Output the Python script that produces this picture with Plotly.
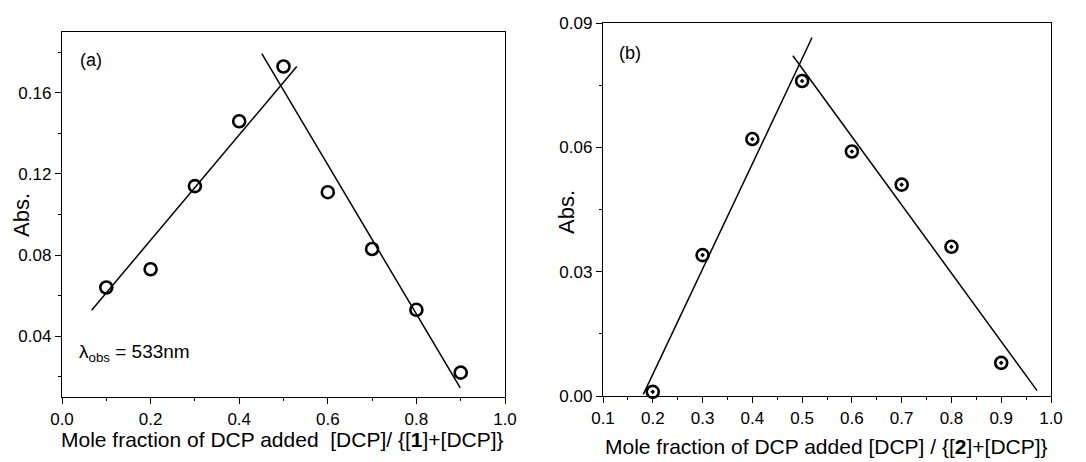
import plotly.graph_objects as go

W, H = 1086, 462

# ---- data panel (a)
xa = [0.1, 0.2, 0.3, 0.4, 0.5, 0.6, 0.7, 0.8, 0.9]
ya = [0.064, 0.073, 0.114, 0.146, 0.173, 0.111, 0.083, 0.053, 0.022]
fit_a1_x = [0.067, 0.530]
fit_a1_y = [0.0528, 0.173]
fit_a2_x = [0.451, 0.899]
fit_a2_y = [0.1793, 0.0145]

# ---- data panel (b)
xb = [0.2, 0.3, 0.4, 0.5, 0.6, 0.7, 0.8, 0.9]
yb = [0.001, 0.034, 0.062, 0.076, 0.059, 0.051, 0.036, 0.008]
fit_b1_x = [0.181, 0.520]
fit_b1_y = [0.0004, 0.0865]
fit_b2_x = [0.4815, 0.972]
fit_b2_y = [0.0821, 0.0013]

FONT = "Liberation Sans, Arial, sans-serif"

fig = go.Figure()

line_style = dict(color="black", width=1.5)
fig.add_trace(go.Scatter(x=fit_a1_x, y=fit_a1_y, mode="lines", line=line_style, xaxis="x", yaxis="y", showlegend=False))
fig.add_trace(go.Scatter(x=fit_a2_x, y=fit_a2_y, mode="lines", line=line_style, xaxis="x", yaxis="y", showlegend=False))
fig.add_trace(go.Scatter(x=xa, y=ya, mode="markers", xaxis="x", yaxis="y", showlegend=False,
                         marker=dict(symbol="circle-open", size=12, color="black", line=dict(width=2.6, color="black"))))

fig.add_trace(go.Scatter(x=fit_b1_x, y=fit_b1_y, mode="lines", line=line_style, xaxis="x2", yaxis="y2", showlegend=False))
fig.add_trace(go.Scatter(x=fit_b2_x, y=fit_b2_y, mode="lines", line=line_style, xaxis="x2", yaxis="y2", showlegend=False))
fig.add_trace(go.Scatter(x=xb, y=yb, mode="markers", xaxis="x2", yaxis="y2", showlegend=False, cliponaxis=False,
                         marker=dict(symbol="circle-open-dot", size=12, color="black", line=dict(width=2.6, color="black"))))

def px_dom(a, b, total):
    return [a / total, b / total]

axis_common = dict(showline=True, linecolor="black", linewidth=1.3, mirror=True, showgrid=False, zeroline=False,
                   automargin=False, ticks="outside", ticklen=6, tickwidth=1.2, tickcolor="black",
                   tickfont=dict(family=FONT, size=17, color="black"))

fig.update_layout(
    width=W, height=H, margin=dict(l=0, r=0, t=0, b=0),
    paper_bgcolor="white", plot_bgcolor="white",
    xaxis=dict(domain=px_dom(62, 505, W), range=[0, 1.0], tick0=0, dtick=0.2, tickformat=".1f",
               minor=dict(ticks="outside", ticklen=3, dtick=0.1, tickcolor="black", tickwidth=1.2), anchor="y", **axis_common),
    yaxis=dict(domain=[(H - 397) / H, (H - 32) / H], range=[0.01, 0.19], tick0=0, dtick=0.04, tickformat=".2f",
               minor=dict(ticks="outside", ticklen=3, tick0=0, dtick=0.02, tickcolor="black", tickwidth=1.2), anchor="x", **axis_common),
    xaxis2=dict(domain=px_dom(603, 1051, W), range=[0.1, 1.0], tick0=0.1, dtick=0.1, tickformat=".1f",
                minor=dict(ticks="outside", ticklen=3, dtick=0.05, tickcolor="black", tickwidth=1.2), anchor="y2", **axis_common),
    yaxis2=dict(domain=[(H - 396) / H, (H - 23) / H], range=[0, 0.09], tick0=0, dtick=0.03, tickformat=".2f",
                minor=dict(ticks="outside", ticklen=3, tick0=0, dtick=0.015, tickcolor="black", tickwidth=1.2), anchor="x2", **axis_common),
)

ann_font = dict(family=FONT, color="black")
annotations = [
    dict(text="Mole fraction of DCP added&nbsp;&nbsp;[DCP]/ {[<b>1</b>]+[DCP]}", xref="paper", yref="paper",
         x=282.5 / W, y=(H - 439) / H, xanchor="center", yanchor="middle", showarrow=False, font=dict(size=21, **ann_font)),
    dict(text="Abs.", xref="paper", yref="paper", x=22 / W, y=(H - 215) / H, textangle=-90,
         xanchor="center", yanchor="middle", showarrow=False, font=dict(size=22, **ann_font)),
    dict(text="(a)", xref="x", yref="y", x=0.036, y=0.176, xanchor="left", yanchor="middle", showarrow=False,
         font=dict(size=18, **ann_font)),
    dict(text="λ<sub>obs</sub> = 533nm", xref="x", yref="y", x=0.034, y=0.0317, xanchor="left", yanchor="middle",
         showarrow=False, font=dict(size=19, **ann_font)),
    dict(text="Mole fraction of DCP added [DCP] / {[<b>2</b>]+[DCP]}", xref="paper", yref="paper",
         x=826.5 / W, y=(H - 446) / H, xanchor="center", yanchor="middle", showarrow=False, font=dict(size=21, **ann_font)),
    dict(text="Abs.", xref="paper", yref="paper", x=566 / W, y=(H - 212) / H, textangle=-90,
         xanchor="center", yanchor="middle", showarrow=False, font=dict(size=22, **ann_font)),
    dict(text="(b)", xref="x2", yref="y2", x=0.129, y=0.0827, xanchor="left", yanchor="middle", showarrow=False,
         font=dict(size=18, **ann_font)),
]
fig.update_layout(annotations=annotations)

fig.write_html("out.html")
